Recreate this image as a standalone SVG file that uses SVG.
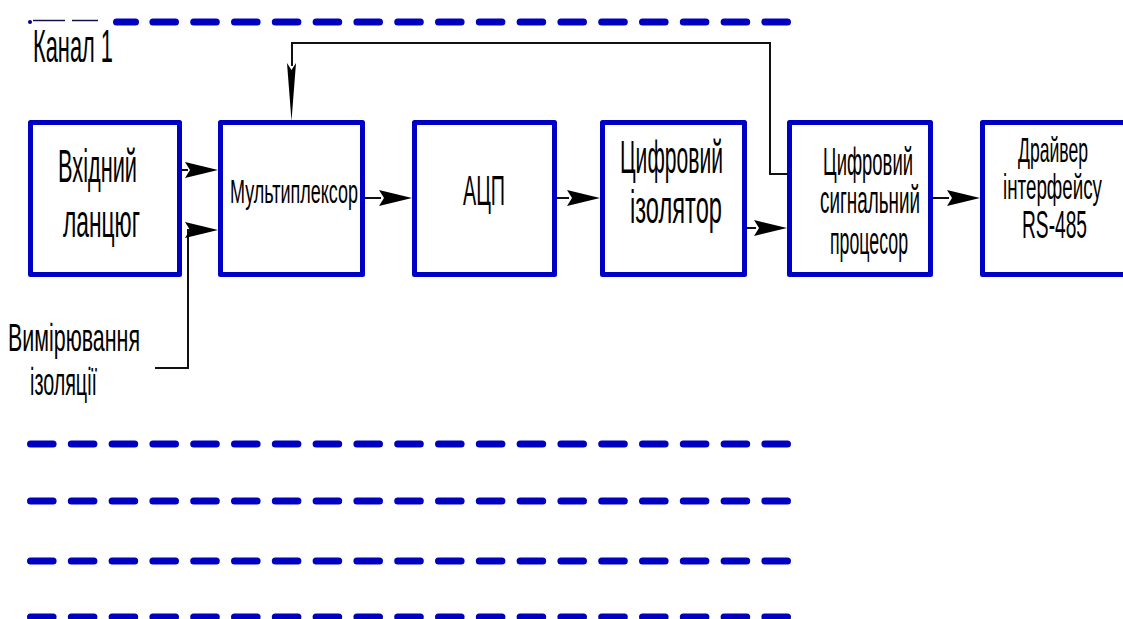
<svg xmlns="http://www.w3.org/2000/svg" xmlns:xlink="http://www.w3.org/1999/xlink" width="1123" height="619" viewBox="0 0 1123 619">
  <defs>
    <style>
      .box { fill: #ffffff; stroke: #0000c4; stroke-width: 5; stroke-linejoin: round; }
      .dash { stroke: #0000c0; stroke-width: 7; stroke-linecap: round; stroke-dasharray: 22.6 18.2; fill: none; }
      .wire { fill: none; stroke: #111111; stroke-width: 2; }
      .head { fill: #000000; }
      .lbl { font-family: "Liberation Sans", Arial, sans-serif; fill: #000000; text-anchor: middle; }
    </style>
    <path id="ah" d="M0,0 L-33,-8 L-28,0 L-33,8 Z" class="head"/>
  </defs>
  <rect width="1123" height="619" fill="#ffffff"/>

  <!-- channel separator lines -->
  <g id="separators">
    <circle cx="30" cy="22" r="2" fill="#00008a"/>
    <line x1="33" y1="20.5" x2="65" y2="20.5" stroke="#10104a" stroke-width="1.5"/>
    <line x1="72" y1="20.5" x2="98" y2="20.5" stroke="#10104a" stroke-width="1.5"/>
    <line x1="116.5" y1="22" x2="135.5" y2="22" class="dash" stroke-dasharray="none"/>
    <line x1="152.9" y1="22" x2="787.5" y2="22" class="dash"/>
    <line x1="30.5" y1="444" x2="787.5" y2="444" class="dash"/>
    <line x1="30.5" y1="501" x2="787.5" y2="501" class="dash"/>
    <line x1="30.5" y1="561" x2="787.5" y2="561" class="dash"/>
    <line x1="30.5" y1="617" x2="787.5" y2="617" class="dash"/>
  </g>

  <text id="channel-label" class="lbl" transform="translate(73,62) scale(0.5,1)" font-size="46" textLength="160" lengthAdjust="spacingAndGlyphs">Канал 1</text>

  <!-- connectors -->
  <g id="connectors">
    <line class="wire" x1="182" y1="170" x2="188" y2="170"/>
    <use xlink:href="#ah" x="218" y="170"/>
    <path class="wire" d="M155,368 H188 V230 H190"/>
    <use xlink:href="#ah" x="218" y="230"/>
    <line class="wire" x1="365" y1="198" x2="381" y2="198"/>
    <use xlink:href="#ah" x="412" y="198"/>
    <line class="wire" x1="557" y1="198" x2="569" y2="198"/>
    <use xlink:href="#ah" x="600" y="198"/>
    <line class="wire" x1="747" y1="228" x2="756" y2="228"/>
    <use xlink:href="#ah" x="787" y="228"/>
    <line class="wire" x1="933" y1="198" x2="949" y2="198"/>
    <use xlink:href="#ah" x="980" y="198"/>
    <path class="wire" d="M787,174 H770 V43 H292 V66"/>
    <path class="head" d="M287,63 L291.5,70 L296,63 L291.5,121 Z"/>
  </g>

  <g id="input-circuit">
    <rect class="box" x="30.5" y="122.5" width="149" height="152"/>
    <text class="lbl" transform="translate(97.5,182) scale(0.5,1)" font-size="46" textLength="158" lengthAdjust="spacingAndGlyphs">Вхідний</text>
    <text class="lbl" transform="translate(101.5,237) scale(0.5,1)" font-size="46" textLength="154" lengthAdjust="spacingAndGlyphs">ланцюг</text>
  </g>

  <g id="multiplexer">
    <rect class="box" x="220.5" y="122.5" width="142" height="152"/>
    <text class="lbl" transform="translate(294,203) scale(0.5,1)" font-size="34" textLength="256" lengthAdjust="spacingAndGlyphs">Мультиплексор</text>
  </g>

  <g id="adc">
    <rect class="box" x="414.5" y="122.5" width="140" height="152"/>
    <text class="lbl" transform="translate(484,205) scale(0.5,1)" font-size="42" textLength="84" lengthAdjust="spacingAndGlyphs">АЦП</text>
  </g>

  <g id="digital-isolator">
    <rect class="box" x="602.5" y="122.5" width="142" height="152"/>
    <text class="lbl" transform="translate(671.5,173) scale(0.5,1)" font-size="46" textLength="206" lengthAdjust="spacingAndGlyphs">Цифровий</text>
    <text class="lbl" transform="translate(676,223) scale(0.5,1)" font-size="46" textLength="184" lengthAdjust="spacingAndGlyphs">ізолятор</text>
  </g>

  <g id="dsp">
    <rect class="box" x="789.5" y="122.5" width="141" height="152"/>
    <text class="lbl" transform="translate(868,175) scale(0.5,1)" font-size="38" textLength="180" lengthAdjust="spacingAndGlyphs">Цифровий</text>
    <text class="lbl" transform="translate(870,213) scale(0.5,1)" font-size="38" textLength="200" lengthAdjust="spacingAndGlyphs">сигнальний</text>
    <text class="lbl" transform="translate(869,254) scale(0.5,1)" font-size="38" textLength="156" lengthAdjust="spacingAndGlyphs">процесор</text>
  </g>

  <g id="rs485-driver">
    <rect class="box" x="982.5" y="122.5" width="143" height="152"/>
    <text class="lbl" transform="translate(1053,162) scale(0.5,1)" font-size="36" textLength="140" lengthAdjust="spacingAndGlyphs">Драйвер</text>
    <text class="lbl" transform="translate(1052.5,199) scale(0.5,1)" font-size="36" textLength="198" lengthAdjust="spacingAndGlyphs">інтерфейсу</text>
    <text class="lbl" transform="translate(1054.5,238) scale(0.5,1)" font-size="38" textLength="130" lengthAdjust="spacingAndGlyphs">RS-485</text>
  </g>

  <g id="insulation-measurement">
    <text class="lbl" transform="translate(74,351) scale(0.5,1)" font-size="38" textLength="264" lengthAdjust="spacingAndGlyphs">Вимірювання</text>
    <text class="lbl" transform="translate(63.5,395) scale(0.5,1)" font-size="38" textLength="134" lengthAdjust="spacingAndGlyphs">ізоляції</text>
  </g>
</svg>
